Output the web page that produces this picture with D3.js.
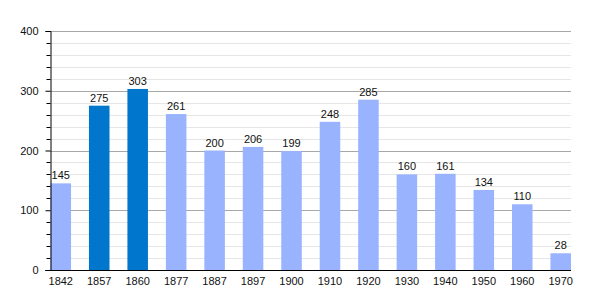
<!DOCTYPE html>
<html>
<head>
<meta charset="utf-8">
<script src="https://cdn.jsdelivr.net/npm/d3@7"></script>
<style>
  body { margin: 0; background: #fff; }
  text { font-family: "Liberation Sans", Arial, sans-serif; font-size: 11px; fill: #111; }
</style>
</head>
<body>
<svg id="chart" width="600" height="300"></svg>
<script>
const years = ["1842", "1857", "1860", "1877", "1887", "1897", "1900", "1910", "1920", "1930", "1940", "1950", "1960", "1970"];
const population = [145, 275, 303, 261, 200, 206, 199, 248, 285, 160, 161, 134, 110, 28];
const highlighted = ["1857", "1860"];
const yTicks = [0, 100, 200, 300, 400];

const margin = { left: 50.5, right: 29, top: 31, bottom: 30 };
const width = 600, height = 300;

const svg = d3.select("#chart");

const x = d3.scaleBand()
    .domain(years)
    .range([margin.left, width - margin.right])
    .paddingInner(0.466)
    .paddingOuter(0);

const y = d3.scaleLinear()
    .domain([0, 400])
    .range([height - margin.bottom, margin.top]);

// 보조 격자선 (20 단위)
const minor = d3.range(20, 400, 20).filter(v => v % 100 !== 0);
svg.append("g")
    .selectAll("line")
    .data(minor)
    .join("line")
    .attr("x1", margin.left)
    .attr("x2", width - margin.right)
    .attr("y1", d => Math.round(y(d)) + 0.5)
    .attr("y2", d => Math.round(y(d)) + 0.5)
    .attr("stroke", "#e6e6e6");

// 주 격자선
svg.append("g")
    .selectAll("line")
    .data(yTicks.filter(v => v > 0))
    .join("line")
    .attr("x1", margin.left)
    .attr("x2", width - margin.right)
    .attr("y1", d => Math.round(y(d)) + 0.5)
    .attr("y2", d => Math.round(y(d)) + 0.5)
    .attr("stroke", "#a8a8a8");

// 막대
svg.append("g")
    .selectAll("rect")
    .data(years)
    .join("rect")
    .attr("x", d => x(d))
    .attr("width", x.bandwidth())
    .attr("y", (d, i) => y(population[i]))
    .attr("height", (d, i) => y(0) - y(population[i]))
    .attr("fill", d => highlighted.includes(d) ? "#0077cc" : "#99b3ff");

// 값 레이블
svg.append("g")
    .selectAll("text")
    .data(years)
    .join("text")
    .attr("x", d => x(d) + x.bandwidth() / 2)
    .attr("y", (d, i) => y(population[i]) - 4)
    .attr("text-anchor", "middle")
    .text((d, i) => population[i]);

// y축
const yAxis = d3.axisLeft(y)
    .tickValues(yTicks)
    .tickSize(5)
    .tickPadding(7)
    .tickFormat(d3.format("d"));

const yg = svg.append("g")
    .attr("transform", `translate(${margin.left},0)`)
    .call(yAxis);
yg.select(".domain").attr("stroke", "#000");
yg.selectAll(".tick line").attr("stroke", "#000");
yg.selectAll(".tick text").style("font-family", "'Liberation Sans', Arial, sans-serif").style("font-size", "11px").attr("fill", "#111");

// y축 보조 눈금
svg.append("g")
    .selectAll("line")
    .data(minor)
    .join("line")
    .attr("x1", margin.left - 4)
    .attr("x2", margin.left)
    .attr("y1", d => Math.round(y(d)) + 0.5)
    .attr("y2", d => Math.round(y(d)) + 0.5)
    .attr("stroke", "#000");

// x축 기준선
svg.append("line")
    .attr("x1", margin.left - 5)
    .attr("x2", width - margin.right)
    .attr("y1", y(0) + 0.5)
    .attr("y2", y(0) + 0.5)
    .attr("stroke", "#000")
    .attr("stroke-width", 1.2);

// x축 레이블
svg.append("g")
    .selectAll("text")
    .data(years)
    .join("text")
    .attr("x", d => x(d) + x.bandwidth() / 2)
    .attr("y", y(0) + 15)
    .attr("text-anchor", "middle")
    .text(d => d);
</script>
</body>
</html>
